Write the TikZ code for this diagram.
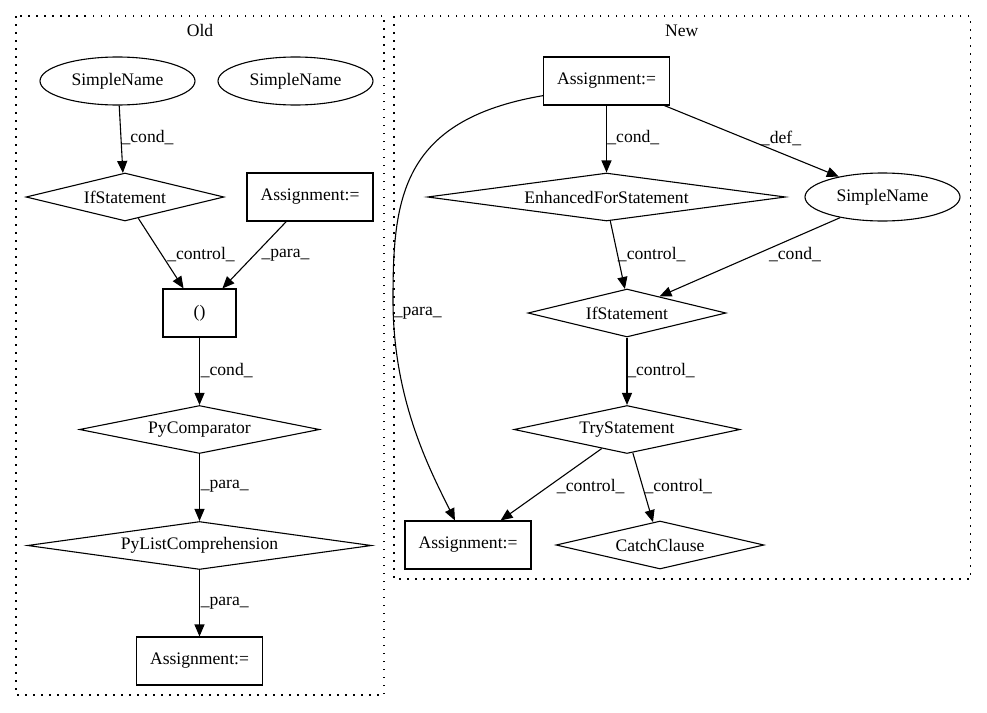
\documentclass[tikz,border=0pt]{standalone}
\usepackage{fontspec}
\setmainfont{Liberation Serif}
\usetikzlibrary{shapes.geometric,arrows.meta}
\begin{document}
\begin{tikzpicture}[x=1pt,y=-1pt,
  every node/.style={font=\fontsize{17.6}{20}\selectfont},
  box/.style={draw,line width=1.1pt,rectangle,minimum width=126pt,minimum height=48pt,inner sep=0pt},
  oval/.style={draw,line width=1.1pt,ellipse,minimum width=155pt,minimum height=48pt,inner sep=0pt},
  dia/.style={draw,line width=1.1pt,diamond,inner sep=0pt,minimum height=48pt},
  edge/.style={line width=1.1pt,-{Triangle[length=12pt,width=10pt]}},
  lbl/.style={inner sep=0pt},
  cluster/.style={line width=1.2pt,dash pattern=on 1.5pt off 6.5pt}
]
\useasboundingbox (0,0) rectangle (987,712);

% clusters
\draw[cluster] (16,16) rectangle (384,695);
\node (oldlbl) at (200,30.7) {Old};
\draw[cluster] (394,16) rectangle (970.7,579);
\node (newlbl) at (681.7,30.7) {New};

% Old nodes
\node[oval] (osn1) at (117.5,81) {SimpleName};
\node[oval] (osn2) at (295.5,81) {SimpleName};
\node[dia,minimum width=198pt,shape aspect=4] (oif) at (125,197) {IfStatement};
\node[box] (oas1) at (310,197) {Assignment:=};
\node[box,minimum width=73pt] (opar) at (199.5,313) {()};
\node[dia,minimum width=240pt,shape aspect=5] (ocmp) at (199.5,429.5) {PyComparator};
\node[dia,minimum width=344pt,shape aspect=7] (olc) at (199.5,545.5) {PyListComprehension};
\node[box] (oas2) at (199.5,661) {Assignment:=};

% New nodes
\node[box] (nas1) at (606.5,81) {Assignment:=};
\node[dia,minimum width=358pt,shape aspect=7] (nef) at (606.5,197) {EnhancedForStatement};
\node[oval] (nsn) at (882.5,197) {SimpleName};
\node[dia,minimum width=198pt,shape aspect=4] (nif) at (627,313) {IfStatement};
\node[dia,minimum width=226pt,shape aspect=4.5] (ntry) at (627,429.5) {TryStatement};
\node[box] (nas2) at (468,545) {Assignment:=};
\node[dia,minimum width=208pt,shape aspect=4.3] (ncc) at (660,545) {CatchClause};

% Old edges
\draw[edge] (osn1.-86) -- (oif.95) node[lbl] (l1) at (147.5,138) {\_cond\_};
\draw[edge] (oif.-58) -- (opar.123) node[lbl] (l2) at (201,255) {\_control\_};
\draw[edge] (oas1.-134) -- (opar.47) node[lbl] (l3) at (285.5,255) {\_para\_};
\draw[edge] (opar.south) -- (ocmp.north) node[lbl] (l4) at (226.7,370.7) {\_cond\_};
\draw[edge] (ocmp.south) -- (olc.north) node[lbl] (l5) at (224.7,486.7) {\_para\_};
\draw[edge] (olc.south) -- (oas2.north) node[lbl] (l6) at (224.7,603.3) {\_para\_};

% New edges
\draw[edge] (nas1.south) -- (nef.north) node[lbl] (l7) at (633.3,138) {\_cond\_};
\draw[edge] (nas1.-23) -- (nsn.155) node[lbl] (l8) at (781,138) {\_def\_};
\draw[edge] (nef.-81) -- (nif.95) node[lbl] (l9) at (651.7,255) {\_control\_};
\draw[edge] (nsn.-154) -- (nif.27) node[lbl] (l10) at (795,255) {\_cond\_};
\draw[edge] (nif.south) -- (ntry.north) node[lbl] (l11) at (661,370.7) {\_control\_};
\draw[edge] (ntry.-143) -- (nas2.37) node[lbl] (l12) at (590.7,486.7) {\_control\_};
\draw[edge] (ntry.-76) -- (ncc.107) node[lbl] (l13) at (678.3,486.7) {\_control\_};
\draw[edge] (nas1.-167) .. controls (400,120) and (393,200) .. (393,300)
  .. controls (393,400) and (430,470) .. (nas2.118)
  node[lbl] (l14) at (417.7,313) {\_para\_};
\end{tikzpicture}
\end{document}
